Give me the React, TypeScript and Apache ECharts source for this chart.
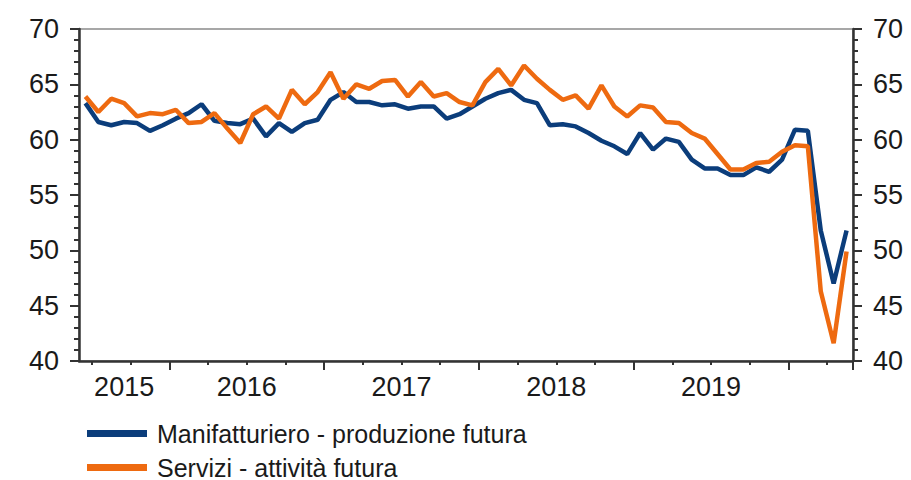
import React, { useEffect, useRef } from "react";
import * as echarts from "echarts";

// Monthly observations from June 2015 to May 2020
const START_YEAR = 2015;
const START_MONTH = 6;
const N_MONTHS = 60;
const months: string[] = Array.from({ length: N_MONTHS }, (_, i) => {
  const m = START_MONTH - 1 + i;
  const y = START_YEAR + Math.floor(m / 12);
  return `${y}-${String((m % 12) + 1).padStart(2, "0")}`;
});

const yearLabels = ["2015", "2016", "2017", "2018", "2019"];

const manifatturiero = [
  63.3, 61.6, 61.3, 61.6, 61.5, 60.8, 61.3, 61.9, 62.4, 63.2, 61.7, 61.5,
  61.4, 61.9, 60.3, 61.5, 60.7, 61.5, 61.8, 63.6, 64.3, 63.4, 63.4, 63.1,
  63.2, 62.8, 63.0, 63.0, 61.9, 62.3, 63.0, 63.7, 64.2, 64.5, 63.6, 63.3,
  61.3, 61.4, 61.2, 60.6, 59.9, 59.4, 58.7, 60.6, 59.1, 60.1, 59.8, 58.2,
  57.4, 57.4, 56.8, 56.8, 57.5, 57.1, 58.2, 60.9, 60.8, 51.8, 47.0, 51.8,
];

const servizi = [
  63.9, 62.5, 63.7, 63.3, 62.1, 62.4, 62.3, 62.7, 61.5, 61.6, 62.4, 61.0,
  59.7, 62.3, 63.0, 61.9, 64.5, 63.2, 64.3, 66.1, 63.7, 65.0, 64.6, 65.3,
  65.4, 63.9, 65.2, 63.9, 64.2, 63.4, 63.1, 65.2, 66.4, 64.9, 66.7, 65.5,
  64.5, 63.6, 64.0, 62.8, 64.9, 63.0, 62.1, 63.1, 62.9, 61.6, 61.5, 60.6,
  60.1, 58.7, 57.3, 57.3, 57.9, 58.0, 58.9, 59.5, 59.4, 46.3, 41.6, 49.9,
];

const Y_MIN = 40;
const Y_MAX = 70;
const Y_STEP = 5;

const SERIES_NAMES = ["Manifatturiero - produzione futura", "Servizi - attività futura"];
const COLORS = ["#0b3d7b", "#ee6a10"];

const FONT = "'Liberation Sans', Arial, sans-serif";
const AXIS_COLOR = "#333333";
const TEXT_COLOR = "#1a1a1a";

// half-month grid used to centre year labels on the visible part of each year
const halfCats: string[] = Array.from({ length: N_MONTHS * 2 + 1 }, () => "");
yearLabels.forEach((y) => {
  const idx = months.map((m, i) => (m.startsWith(y) ? i : -1)).filter((i) => i >= 0);
  if (idx.length) halfCats[idx[0] + idx[idx.length - 1] + 1] = y;
});

const monthOf = (i: number) => parseInt(months[i].slice(5), 10);

export default function App() {
  const ref = useRef<HTMLDivElement>(null);

  useEffect(() => {
    if (!ref.current) return;
    const chart = echarts.init(ref.current, undefined, { renderer: "svg" });

    const yAxisBase = (position: "left" | "right") => ({
      type: "value" as const,
      position,
      min: Y_MIN,
      max: Y_MAX,
      interval: Y_STEP,
      axisLine: { show: true, lineStyle: { color: AXIS_COLOR, width: 2.5 } },
      axisTick: { show: true, length: 9, lineStyle: { color: AXIS_COLOR, width: 2 } },
      minorTick: { show: true, splitNumber: 5, length: 5, lineStyle: { color: AXIS_COLOR, width: 2 } },
      splitLine: { show: false },
      axisLabel: { fontSize: 27, margin: 20, color: TEXT_COLOR, fontFamily: FONT },
    });

    const legendBase = (name: string, top: number) => ({
      show: true,
      orient: "vertical",
      left: 87,
      top,
      padding: 0,
      itemWidth: 60,
      itemHeight: 7,
      icon: "rect",
      data: [name],
      textStyle: { fontSize: 25, color: TEXT_COLOR, fontFamily: FONT, padding: [0, 0, 12, 5] },
    });

    chart.setOption({
      animation: false,
      backgroundColor: "#ffffff",
      grid: {
        left: 79,
        right: 58,
        top: 29,
        bottom: 119,
        show: true,
        borderColor: "#8a8a8a",
        borderWidth: 1.5,
        outerBoundsMode: "none",
      },
      xAxis: [
        {
          type: "category",
          data: months,
          position: "bottom",
          boundaryGap: true,
          axisLine: { show: true, lineStyle: { color: AXIS_COLOR, width: 2.5 } },
          axisTick: {
            show: true,
            length: 4,
            interval: (i: number) => (monthOf(i) - 1) % 3 === 0,
            lineStyle: { color: AXIS_COLOR, width: 2 },
          },
          axisLabel: { show: false },
          splitLine: { show: false },
        },
        {
          type: "category",
          data: months,
          position: "bottom",
          boundaryGap: true,
          axisLine: { show: false },
          axisTick: {
            show: true,
            length: 9,
            interval: (i: number) => monthOf(i) === 1,
            lineStyle: { color: AXIS_COLOR, width: 2 },
          },
          axisLabel: { show: false },
          splitLine: { show: false },
        },
        {
          type: "category",
          data: halfCats,
          position: "bottom",
          boundaryGap: false,
          axisLine: { show: false },
          axisTick: { show: false },
          axisLabel: {
            show: true,
            interval: 0,
            fontSize: 27,
            margin: 12,
            color: TEXT_COLOR,
            fontFamily: FONT,
          },
          splitLine: { show: false },
        },
      ],
      yAxis: [yAxisBase("left"), yAxisBase("right")],
      legend: [legendBase(SERIES_NAMES[0], 421), legendBase(SERIES_NAMES[1], 455)],
      series: [
        {
          name: SERIES_NAMES[0],
          type: "line",
          xAxisIndex: 0,
          yAxisIndex: 0,
          data: manifatturiero,
          symbol: "none",
          showSymbol: false,
          color: COLORS[0],
          lineStyle: { color: COLORS[0], width: 4.5 },
        },
        {
          name: SERIES_NAMES[1],
          type: "line",
          xAxisIndex: 0,
          yAxisIndex: 0,
          data: servizi,
          symbol: "none",
          showSymbol: false,
          color: COLORS[1],
          lineStyle: { color: COLORS[1], width: 4.5 },
        },
      ],
    });

    return () => chart.dispose();
  }, []);

  return (
    <div
      ref={ref}
      style={{ position: "fixed", left: 0, top: 0, width: 911, height: 480, background: "#fff" }}
    />
  );
}
